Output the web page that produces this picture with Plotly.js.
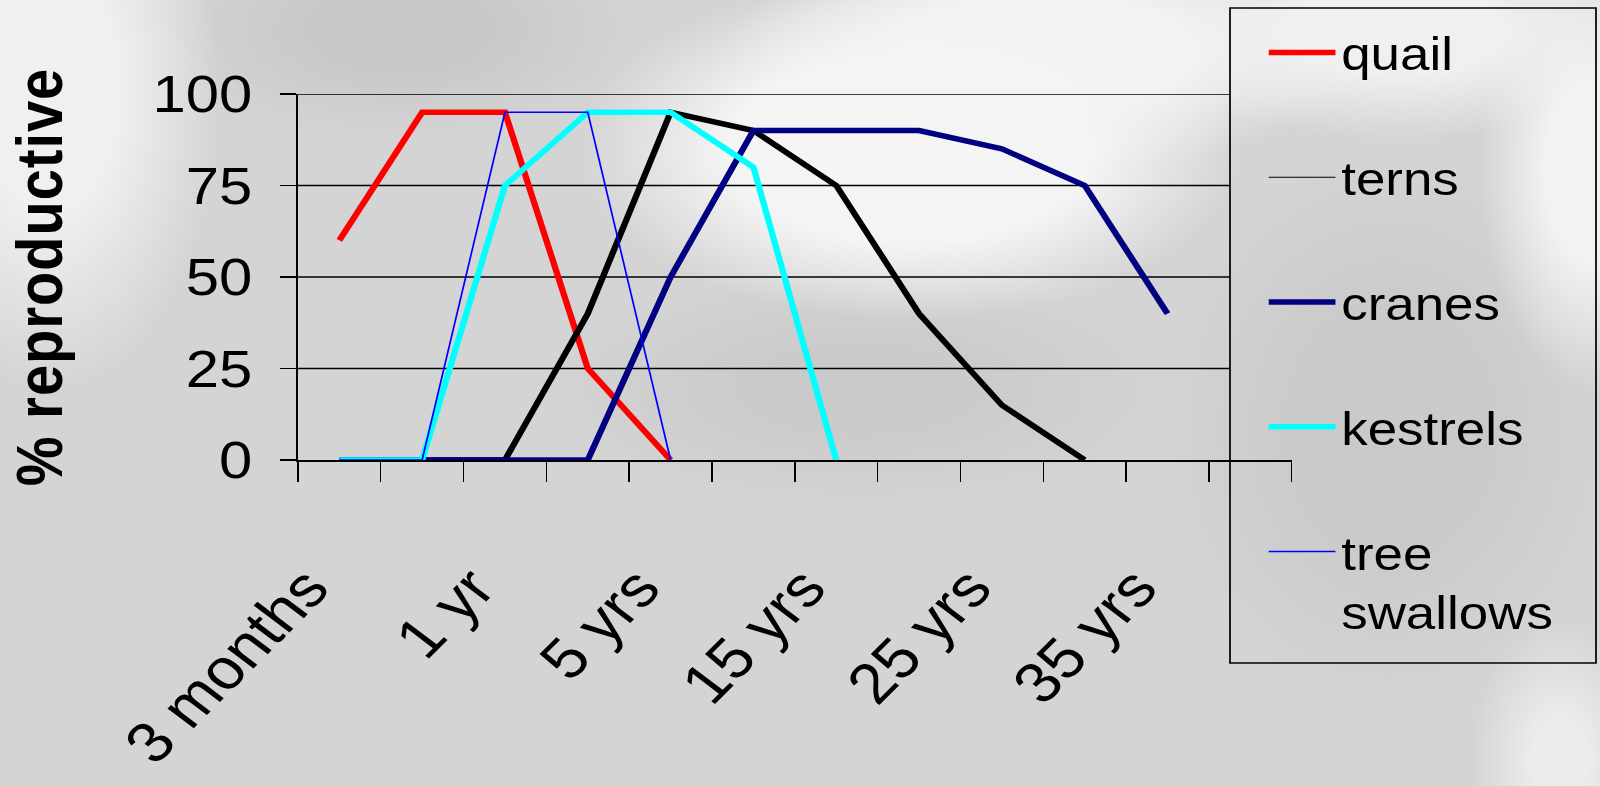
<!DOCTYPE html>
<html>
<head>
<meta charset="utf-8">
<script src="https://cdn.plot.ly/plotly-3.0.1.min.js"></script>
<style>
  html, body { margin: 0; padding: 0; }
  body {
    width: 1600px; height: 786px; overflow: hidden;
    background:
      radial-gradient(ellipse 330px 170px at 910px 150px, rgba(244,244,244,1) 0%, rgba(244,244,244,1) 55%, rgba(244,244,244,0) 100%),
      radial-gradient(ellipse 320px 120px at 1050px 50px, rgba(242,242,242,1) 45%, rgba(242,242,242,0) 100%),
      radial-gradient(ellipse 170px 300px at 50px 90px, rgba(240,240,240,1) 40%, rgba(240,240,240,0) 100%),
      radial-gradient(ellipse 110px 220px at 1590px 170px, rgba(242,242,242,1) 40%, rgba(242,242,242,0) 100%),
      radial-gradient(ellipse 260px 110px at 1400px 30px, rgba(240,240,240,1) 40%, rgba(240,240,240,0) 100%),
      radial-gradient(ellipse 90px 140px at 1560px 760px, rgba(236,236,236,1) 30%, rgba(236,236,236,0) 100%),
      radial-gradient(ellipse 240px 110px at 400px 30px, rgba(200,200,200,1) 35%, rgba(200,200,200,0) 100%),
      radial-gradient(ellipse 230px 280px at 1390px 430px, rgba(202,202,202,1) 40%, rgba(202,202,202,0) 100%),
      radial-gradient(ellipse 320px 120px at 860px 390px, rgba(202,202,202,1) 30%, rgba(202,202,202,0) 100%),
      #d4d4d4;
  }
  #wrap { width: 1391px; height: 786px; transform: scaleX(1.15025); transform-origin: 0 0; }
  #chart { width: 1391px; height: 786px; }
  #chart .ytitle { letter-spacing: 1px; }
</style>
</head>
<body>
<div id="wrap"><div id="chart"></div></div>
<script>
// ---- data ----
const categories = ['3 months', '6 months', '1 yr', '2 yrs', '5 yrs', '10 yrs', '15 yrs', '20 yrs', '25 yrs', '30 yrs', '35 yrs', '40 yrs'];
const shownLabels = ['3 months', '1 yr', '5 yrs', '15 yrs', '25 yrs', '35 yrs'];
const yTicks = [0, 25, 50, 75, 100];
const quail = [60, 95, 95, 25, 0];
const terns = [0, 0, 0, 40, 95, 90, 75, 40, 15, 0];
const cranes = [0, 0, 0, 0, 50, 90, 90, 90, 85, 75, 40];
const kestrels = [0, 0, 75, 95, 95, 80, 0];
const treeSwallows = [0, 0, 95, 95, 0];

// ---- geometry helpers (page is stretched horizontally by S) ----
const S = 1600 / 1391;
const W = 1391, H = 786;
const ML = 259, MR = 268, MT = 94, MB = 326;
const PW = W - ML - MR, PH = H - MT - MB;
const px2x = fx => (fx / S - ML) / PW;
const px2y = fy => (H - MB - fy) / PH;

const FONT = 'Liberation Sans, Arial, sans-serif';
const xs = arr => categories.slice(0, arr.length);
const LW = 5.5;

const traces = [
  {name: 'quail', x: xs(quail), y: quail, mode: 'lines', line: {color: '#FF0000', width: LW}, legendgroup: 'g1'},
  {name: 'terns', x: xs(terns), y: terns, mode: 'lines', line: {color: '#000000', width: 1}, legendgroup: 'g2'},
  {name: 'terns', x: xs(terns), y: terns, mode: 'lines', line: {color: '#000000', width: LW}, legendgroup: 'g2', showlegend: false},
  {name: 'cranes', x: xs(cranes), y: cranes, mode: 'lines', line: {color: '#000080', width: LW}, legendgroup: 'g3'},
  {name: 'kestrels', x: xs(kestrels), y: kestrels, mode: 'lines', line: {color: '#00FFFF', width: LW}, legendgroup: 'g4'},
  {name: 'tree<br>swallows', x: xs(treeSwallows), y: treeSwallows, mode: 'lines', line: {color: '#0000FF', width: 1.5}, legendgroup: 'g5'}
];

const shapes = [];
// horizontal gridlines, stopping at the legend box
yTicks.filter(v => v > 0).forEach(v => shapes.push({
  type: 'line', xref: 'paper', yref: 'y', x0: 0, x1: px2x(1230), y0: v, y1: v,
  line: {color: '#000', width: 1.5}, layer: 'below'
}));
// legend frame
shapes.push({
  type: 'rect', xref: 'paper', yref: 'paper',
  x0: px2x(1230), x1: px2x(1596), y0: px2y(663), y1: px2y(8),
  line: {color: '#000', width: 1.5}, fillcolor: 'rgba(0,0,0,0)', layer: 'above'
});

const layout = {
  width: W, height: H,
  margin: {l: ML, r: MR, t: MT, b: MB, pad: 0},
  paper_bgcolor: 'rgba(0,0,0,0)',
  plot_bgcolor: 'rgba(0,0,0,0)',
  font: {family: FONT, color: '#000'},
  hovermode: false,
  showlegend: true,
  xaxis: {
    type: 'category', categoryorder: 'array', categoryarray: categories,
    range: [-0.5, categories.length - 0.5],
    tickmode: 'array', tickvals: categories,
    ticktext: categories.map(c => shownLabels.includes(c) ? c : ''),
    tickson: 'boundaries', ticks: 'outside', ticklen: 20, tickwidth: 1.3, tickcolor: '#000',
    showline: true, linecolor: '#000', linewidth: 1.5,
    showgrid: false, zeroline: false,
    tickangle: -49, ticklabelstandoff: 70, ticklabelshift: -28,
    tickfont: {family: FONT, size: 57, color: '#000'},
    automargin: false, fixedrange: true
  },
  yaxis: {
    range: [0, 100], tickmode: 'array', tickvals: yTicks,
    ticks: 'outside', ticklen: 14, tickwidth: 1.5, tickcolor: '#000',
    showline: true, linecolor: '#000', linewidth: 1.3,
    showgrid: false, zeroline: false,
    ticklabelstandoff: 14,
    tickfont: {family: FONT, size: 52, color: '#000'},
    title: {text: '% reproductive', font: {family: FONT, size: 56, weight: 700, color: '#000'}, standoff: 60},
    automargin: false, fixedrange: true
  },
  legend: {
    x: (1098 - ML) / PW, xanchor: 'left',
    y: px2y(16), yanchor: 'top',
    bgcolor: 'rgba(0,0,0,0)', borderwidth: 0,
    font: {family: FONT, size: 46, color: '#000'},
    traceorder: 'grouped', tracegroupgap: 62,
    itemwidth: 58, valign: 'top', maxheight: 760,
    itemclick: false, itemdoubleclick: false
  },
  shapes: shapes
};

Plotly.newPlot('chart', traces, layout, {displayModeBar: false, staticPlot: true});
</script>
</body>
</html>
